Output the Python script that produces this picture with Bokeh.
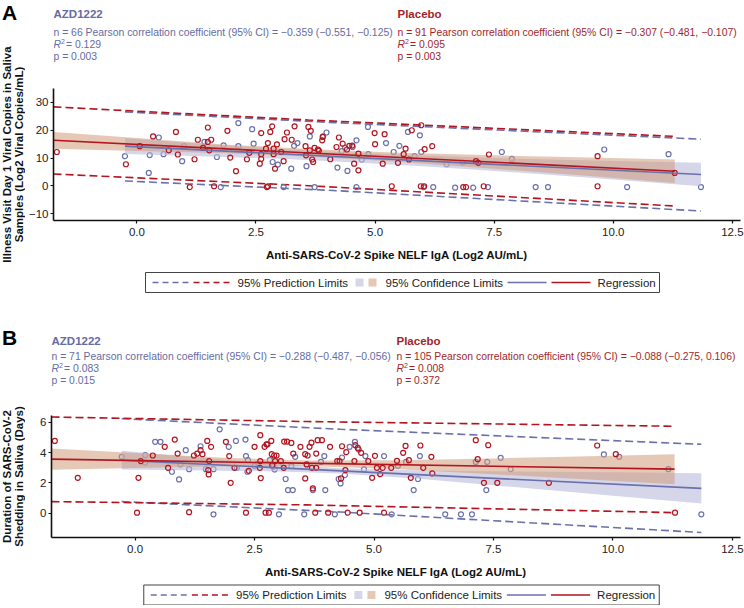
import math
from bokeh.plotting import figure
from bokeh.models import Range1d, FixedTicker, NumeralTickFormatter, CustomJSTickFormatter
from bokeh.core.properties import value
from bokeh.layouts import column, row
from bokeh.embed import file_html
from bokeh.resources import INLINE

FONT = "Liberation Sans"
BLUE = "#6a70ab"
RED = "#b3141f"
BLUE_TXT = "#666ba2"
RED_TXT = "#a31f2a"
BAND_BLUE = "#b9bbdc"
BAND_TAN = "#cf9a7a"

X_RANGE = (-1.75, 12.67)
X_TICKS = [0, 2.5, 5, 7.5, 10, 12.5]
X_LABEL = "Anti-SARS-CoV-2 Spike NELF IgA (Log2 AU/mL)"
LEGEND_LABELS = ["95% Prediction Limits", "95% Confidence Limits", "Regression"]
GROUPS = ["AZD1222", "Placebo"]

# ---------------- Panel A ----------------
A_YLABEL = ["Illness Visit Day 1 Viral Copies in Saliva", "Samples (Log2 Viral Copies/mL)"]
A_YRANGE = (-12.4, 35.0)
A_YTICKS = [-10, 0, 10, 20, 30]
A_STATS_AZD = ["n = 66 Pearson correlation coefficient (95% CI) = \u22120.359 (\u22120.551, \u22120.125)", "= 0.129", "p = 0.003"]
A_STATS_PBO = ["n = 91 Pearson correlation coefficient (95% CI) = \u22120.307 (\u22120.481, \u22120.107)", "= 0.095", "p = 0.003"]

A_AZD = [(-0.25, 10.7), (0.25, 4.7), (0.27, 11.1), (0.46, 17.4), (0.56, 11.4), (0.95, 8.9),
         (0.99, 14.3), (1.42, 15.8), (1.68, 10.4), (1.76, -0.4), (1.82, 14.6), (2.13, 14.3),
         (2.13, 22.6), (2.42, 20.4), (2.45, 15.2), (2.85, 8.6), (2.96, 7.7), (3.08, -0.4),
         (3.24, 6.2), (3.30, 14.4), (3.37, 15.4), (3.56, 7.1), (3.63, 17.8), (3.73, -0.4),
         (3.91, 17.8), (3.98, 19.2), (4.21, 6.6), (4.30, 12.5), (4.37, 13.7), (4.42, 5.4),
         (4.53, 14.0), (4.61, 16.4), (4.61, -0.4), (4.72, 9.5), (4.85, 21.2), (4.86, 11.4),
         (5.23, 15.4), (5.39, 12.2), (5.51, 14.4), (5.69, 19.4), (5.83, 10.7), (5.94, 18.2),
         (5.97, 12.2), (6.02, -0.4), (6.22, -0.4), (6.50, 7.8), (6.68, -0.6), (6.84, 8.4),
         (7.06, -0.6), (7.37, -0.4), (7.66, 12.2), (7.87, 9.7), (8.37, -0.4), (8.63, -0.4),
         (9.81, 13.1), (10.29, -0.4), (11.16, 11.4), (11.84, -0.4)]
A_PBO = [(-1.68, 12.2), (-0.23, 7.8), (0.06, 14.3), (0.34, 17.8), (0.67, 12.8), (0.82, 19.4),
         (0.86, 11.3), (1.11, -0.4), (1.21, 9.6), (1.28, 16.6), (1.39, 13.7), (1.49, 21.0),
         (1.49, 15.8), (1.52, 12.8), (1.56, 16.6), (1.62, -0.1), (1.90, 19.8), (1.96, 10.2),
         (2.08, 5.3), (2.31, 9.6), (2.36, 11.9), (2.58, 8.0), (2.61, 19.0), (2.61, 9.7),
         (2.61, 11.4), (2.73, -0.4), (2.75, 15.4), (2.75, -0.1), (2.71, 13.4), (2.80, 19.4),
         (2.84, 21.4), (2.87, 13.4), (2.87, 11.4), (2.90, 6.2), (2.94, 14.9), (3.03, 12.2),
         (3.08, 8.9), (3.10, 16.8), (3.15, 19.2), (3.25, 16.6), (3.31, 21.4), (3.54, 14.3),
         (3.55, 11.0), (3.60, 21.2), (3.63, 12.8), (3.65, 19.8), (3.68, 9.5), (3.70, 8.6),
         (3.73, 13.7), (3.80, 13.1), (3.82, 12.7), (3.89, 16.4), (3.90, 17.6), (4.06, 9.6),
         (4.19, 14.0), (4.24, 17.4), (4.32, 15.2), (4.41, 13.1), (4.46, 14.4), (4.52, 14.5),
         (4.56, 8.0), (4.65, 5.6), (4.65, 11.6), (4.99, 19.0), (5.20, 18.6), (5.00, 15.0),
         (5.16, 8.0), (5.35, -0.1), (5.48, 8.3), (5.60, 11.4), (5.64, 13.4), (5.71, 9.5),
         (5.77, 20.0), (5.96, -0.1), (5.97, 21.8), (6.03, -0.1), (6.04, 13.2), (6.20, 14.3),
         (6.85, -0.4), (6.91, -0.4), (7.12, 8.9), (7.17, 8.3), (7.28, -0.1), (7.39, 11.3),
         (9.67, 10.7), (9.67, -0.1), (11.29, 4.7)]

A_AZD_FIT_X = [-0.25, 11.84]
A_AZD_FIT_Y = [14.3, 4.1]
A_PBO_FIT_X = [-1.75, 11.29]
A_PBO_FIT_Y = [16.4, 5.3]
A_AZD_CI_X = [-0.25, 1.5, 3.0, 4.2, 6.0, 8.0, 10.0, 11.84]
A_AZD_CI_UP = [17.1, 15.0, 13.4, 12.2, 10.9, 9.8, 9.0, 8.3]
A_AZD_CI_LO = [11.5, 10.6, 9.8, 8.8, 7.1, 4.8, 2.3, -0.1]
A_PBO_CI_X = [-1.75, 0.0, 1.75, 3.6, 5.5, 7.5, 9.5, 11.29]
A_PBO_CI_UP = [19.4, 17.2, 15.0, 13.25, 11.9, 11.0, 10.2, 9.5]
A_PBO_CI_LO = [13.4, 12.6, 11.8, 10.55, 8.7, 6.2, 3.6, 1.1]
A_AZD_PI_X = [-0.25, 4.2, 11.84]
A_AZD_PI_UP = [26.6, 22.7, 16.8]
A_AZD_PI_LO = [1.8, -1.7, -9.0]
A_PBO_PI_X = [-1.75, 3.6, 11.29]
A_PBO_PI_UP = [28.4, 23.7, 17.8]
A_PBO_PI_LO = [4.3, 0.1, -7.2]

# ---------------- Panel B ----------------
B_YLABEL = ["Duration of SARS-CoV-2", "Shedding in Saliva (Days)"]
B_YRANGE = (-1.6, 6.45)
B_YTICKS = [0, 2, 4, 6]
B_STATS_AZD = ["n = 71 Pearson correlation coefficient (95% CI) = \u22120.288 (\u22120.487, \u22120.056)", "= 0.083", "p = 0.015"]
B_STATS_PBO = ["n = 105 Pearson correlation coefficient (95% CI) = \u22120.088 (\u22120.275, 0.106)", "= 0.008", "p = 0.372"]

B_AZD = [(-0.28, 3.72), (0.21, 3.83), (0.21, 3.35), (0.42, 4.71), (0.53, 4.71), (0.77, 2.74),
         (0.92, 2.23), (0.95, 3.22), (1.06, 4.16), (1.13, 2.91), (1.37, 4.42), (1.48, 2.91),
         (1.64, 2.91), (1.64, -0.07), (1.77, 5.54), (1.96, 4.38), (2.11, 4.77), (2.13, 3.0),
         (2.31, 4.86), (2.32, 3.77), (2.36, 3.5), (2.35, 2.74), (2.50, 3.11), (2.82, 3.5),
         (2.89, 3.07), (2.92, 2.89), (3.01, -0.07), (3.15, 2.26), (3.20, 1.53), (3.27, 3.11),
         (3.30, 1.53), (3.35, 3.72), (3.54, -0.07), (3.72, 1.53), (3.89, 3.39), (3.96, 3.77),
         (3.98, 1.53), (4.18, -0.07), (4.26, 2.26), (4.30, 1.97), (4.33, 3.68), (4.39, 2.52),
         (4.49, 4.38), (4.60, 4.71), (4.68, 4.2), (4.79, 2.89), (4.82, 3.77), (5.21, 3.77),
         (5.37, -0.07), (5.50, 3.13), (5.67, 3.39), (5.83, 1.53), (5.92, 2.26), (5.96, 3.77),
         (6.49, -0.07), (6.82, -0.07), (7.05, -0.07), (7.13, 3.39), (7.35, 1.53), (7.37, 3.39),
         (7.65, 3.66), (7.86, 2.91), (9.81, 3.88), (10.13, 3.72), (11.16, 2.91), (11.85, -0.07)]
B_PBO = [(-1.68, 4.77), (-1.20, 2.34), (0.07, 2.34), (0.04, 0.04), (0.12, 3.44), (0.37, 3.81),
         (0.62, 4.38), (0.69, 3.0), (0.83, 4.86), (0.89, 3.94), (1.13, 0.07), (1.23, 3.81),
         (1.30, 3.94), (1.37, 4.16), (1.41, 3.9), (1.51, 4.77), (1.53, 2.85), (1.54, 2.56),
         (1.55, 3.44), (1.59, 4.38), (1.90, 4.71), (1.97, 3.77), (2.00, 2.01), (2.08, 3.0),
         (2.32, 0.04), (2.38, 2.8), (2.50, 4.38), (2.61, 3.0), (2.62, 5.15), (2.63, 2.32),
         (2.62, 3.44), (2.71, 4.38), (2.75, 4.55), (2.77, 4.55), (2.73, 0.04), (2.80, 0.04),
         (2.85, 4.77), (2.86, 3.9), (2.87, 3.17), (2.91, 3.81), (2.93, 3.44), (2.96, 3.81),
         (3.05, 3.44), (3.12, 4.73), (3.11, 3.0), (3.18, 4.73), (3.27, 4.64), (3.31, 3.94),
         (3.46, 4.38), (3.56, 2.3), (3.56, 3.9), (3.59, 3.22), (3.61, 3.81), (3.65, 4.38),
         (3.69, 4.66), (3.72, 1.64), (3.70, 3.0), (3.77, 0.04), (3.79, 3.0), (3.79, 3.94),
         (3.82, 4.82), (3.91, 4.82), (4.04, 0.04), (4.08, 4.38), (4.23, 3.44), (4.28, 3.44),
         (4.31, 2.3), (4.33, 4.42), (4.40, 2.85), (4.42, 4.03), (4.45, 0.04), (4.59, 3.44),
         (4.61, 4.49), (4.66, 4.31), (4.70, 0.04), (4.73, 3.99), (4.88, 3.44), (4.96, 2.34),
         (5.02, 3.79), (5.06, 3.0), (5.13, 2.58), (5.18, 3.0), (5.21, 0.04), (5.36, 3.0),
         (5.48, 3.46), (5.61, 3.99), (5.66, 4.44), (5.73, 3.5), (5.77, 2.34), (5.97, 4.47),
         (6.03, 3.0), (6.20, 3.72), (6.22, 2.63), (7.13, 4.82), (7.17, 3.57), (7.30, 2.01),
         (7.39, 4.49), (7.58, 2.01), (8.66, 2.01), (9.67, 4.47), (10.06, 3.9), (11.30, 0.04)]

B_AZD_FIT_X = [-0.28, 11.85]
B_AZD_FIT_Y = [3.5, 1.64]
B_PBO_FIT_X = [-1.75, 11.29]
B_PBO_FIT_Y = [3.57, 2.91]
B_AZD_CI_X = [-0.28, 1.5, 3.0, 4.3, 6.0, 8.0, 10.0, 11.85]
B_AZD_CI_UP = [4.12, 3.63, 3.25, 2.97, 2.82, 2.75, 2.70, 2.64]
B_AZD_CI_LO = [2.88, 2.82, 2.76, 2.63, 2.26, 1.71, 1.16, 0.64]
B_PBO_CI_X = [-1.75, 0.0, 1.75, 3.6, 5.5, 7.5, 9.5, 11.29]
B_PBO_CI_UP = [4.27, 3.97, 3.68, 3.48, 3.50, 3.62, 3.76, 3.90]
B_PBO_CI_LO = [2.87, 2.99, 3.10, 3.12, 2.90, 2.57, 2.22, 1.92]
B_AZD_PI_X = [-0.28, 4.3, 11.85]
B_AZD_PI_UP = [6.24, 5.54, 4.55]
B_AZD_PI_LO = [0.77, 0.08, -1.27]
B_PBO_PI_X = [-1.75, 3.6, 11.29]
B_PBO_PI_UP = [6.35, 6.05, 5.74]
B_PBO_PI_LO = [0.77, 0.55, 0.04]

LEFT_W = 25            # strip holding the panel letter and the y-axis title
STACK_W = 744 - LEFT_W  # header / plot / legend column
FRAME_W = 687          # nominal plot-frame width (header & legend share it)
DASH = "8 4"


def blank(width, height, xr):
    """Figure whose frame is a plain pixel canvas, y measured downwards."""
    p = figure(width=width, height=height, x_range=Range1d(0, xr), y_range=Range1d(height, 0),
               output_backend="svg", toolbar_location=None, title=None,
               x_axis_location=None, y_axis_location=None, min_border=0)
    p.grid.visible = False
    p.outline_line_color = None
    return p


def txt(p, x, y, s, size, color, style="normal", align="left", baseline="alphabetic",
        angle=0.0):
    if baseline == "alphabetic":
        y -= 0.36 * size   # compensate the renderer's downward shift of this baseline
    p.text(x=[x], y=[y], text=[s], text_font=value(FONT), text_font_size=value(f"{size}px"),
           text_font_style=style, text_color=color, text_align=align,
           text_baseline=baseline, angle=angle)


def left_strip(letter, ylabel, height, let_y, label_y):
    p = blank(LEFT_W, height, LEFT_W)
    txt(p, 1.5, let_y, letter, 21, "#000000", "bold")
    txt(p, 6, label_y, ylabel[0], 11.5, "#111111", "bold", "center", "middle", math.pi / 2)
    txt(p, 18.5, label_y, ylabel[1], 11.5, "#111111", "bold", "center", "middle", math.pi / 2)
    return p


def header(stats_azd, stats_pbo, height, ttl_y, s_y):
    p = blank(STACK_W, height, FRAME_W)
    txt(p, 0, ttl_y, GROUPS[0], 11.5, BLUE_TXT, "bold")
    txt(p, 344, ttl_y, GROUPS[1], 11.5, RED_TXT, "bold")
    for fx, stats, col in ((0, stats_azd, BLUE_TXT), (344, stats_pbo, RED_TXT)):
        txt(p, fx, s_y[0], stats[0], 10.4, col)
        txt(p, fx, s_y[1], "R", 10.4, col, "italic")
        txt(p, fx + 7.5, s_y[1] - 4, "2", 7, col)
        txt(p, fx + 12.5, s_y[1], stats[1], 10.4, col)
        txt(p, fx, s_y[2], stats[2], 10.4, col)
    return p


def legend_fig(height, top):
    p = blank(STACK_W, height, FRAME_W)
    yc = top + 10
    p.quad(left=[92], right=[606], top=[top], bottom=[top + 20], fill_color="white",
           line_color="#444444", line_width=1)
    p.line([99, 135], [yc, yc], line_color=BLUE, line_width=1.6, line_dash="6 4")
    p.line([140, 176], [yc, yc], line_color=RED, line_width=1.6, line_dash="6 4")
    txt(p, 184, yc + 4.2, LEGEND_LABELS[0], 11.5, "#222222")
    p.scatter([306], [yc], marker="square", size=8, fill_color=BAND_BLUE, fill_alpha=0.6,
              line_color=None)
    p.scatter([319], [yc], marker="square", size=8, fill_color=BAND_TAN, fill_alpha=0.55,
              line_color=None)
    txt(p, 332, yc + 4.2, LEGEND_LABELS[1], 11.5, "#222222")
    p.line([454, 493], [yc, yc], line_color=BLUE, line_width=1.6)
    p.line([498, 537], [yc, yc], line_color=RED, line_width=1.6)
    txt(p, 544, yc + 4.2, LEGEND_LABELS[2], 11.5, "#222222")
    return p


def main_fig(yrange, yticks, azd, pbo, azd_fit, pbo_fit, azd_ci, pbo_ci,
             azd_pi, pbo_pi, frame_h):
    p = figure(width=STACK_W, frame_height=frame_h, x_range=Range1d(*X_RANGE),
               y_range=Range1d(*yrange), output_backend="svg", title=None,
               toolbar_location=None, min_border_left=26, min_border_right=4,
               min_border_top=4, min_border_bottom=46)
    p.grid.visible = False
    p.outline_line_color = None

    for ax in (p.xaxis[0], p.yaxis[0]):
        ax.axis_line_color = "#111111"
        ax.axis_line_width = 1.6
        ax.major_tick_line_color = "#111111"
        ax.major_tick_line_width = 1.2
        ax.major_tick_in = 0
        ax.minor_tick_line_color = None
        ax.major_label_text_font = FONT
        ax.major_label_text_font_size = "11.5px"
        ax.major_label_text_color = "#222222"
    p.xaxis.ticker = FixedTicker(ticks=X_TICKS)
    p.xaxis.formatter = NumeralTickFormatter(format="0.0")
    p.xaxis.major_tick_out = 3
    p.xaxis.major_label_standoff = 4
    p.xaxis.axis_label = X_LABEL
    p.xaxis.axis_label_text_font = FONT
    p.xaxis.axis_label_text_font_size = "11.5px"
    p.xaxis.axis_label_text_font_style = "bold"
    p.xaxis.axis_label_text_color = "#111111"
    p.xaxis.axis_label_standoff = 10
    p.yaxis.ticker = FixedTicker(ticks=yticks)
    p.yaxis.formatter = CustomJSTickFormatter(
        code="return tick < 0 ? '\\u2212' + Math.abs(tick) : tick.toString();")
    p.yaxis.major_tick_out = 3
    p.yaxis.major_label_standoff = 2

    p.line(azd_pi[0], azd_pi[1], line_color=BLUE, line_width=1.6, line_dash=DASH)
    p.line(azd_pi[0], azd_pi[2], line_color=BLUE, line_width=1.6, line_dash=DASH)
    p.line(pbo_pi[0], pbo_pi[1], line_color=RED, line_width=1.6, line_dash=DASH)
    p.line(pbo_pi[0], pbo_pi[2], line_color=RED, line_width=1.6, line_dash=DASH)

    p.scatter([v[0] for v in azd], [v[1] for v in azd], marker="circle", size=5,
              fill_alpha=0, line_color=BLUE, line_width=1.2)
    p.varea(x=azd_ci[0], y1=azd_ci[2], y2=azd_ci[1], fill_color=BAND_BLUE, fill_alpha=0.6)
    p.varea(x=pbo_ci[0], y1=pbo_ci[2], y2=pbo_ci[1], fill_color=BAND_TAN, fill_alpha=0.55)
    p.scatter([v[0] for v in pbo], [v[1] for v in pbo], marker="circle", size=5,
              fill_alpha=0, line_color=RED, line_width=1.2)

    p.line(azd_fit[0], azd_fit[1], line_color=BLUE, line_width=1.6)
    p.line(pbo_fit[0], pbo_fit[1], line_color=RED, line_width=1.6)
    return p


# ---- panel A: header 84 + plot (4+132+46) + legend 34 = 300 px
hA = header(A_STATS_AZD, A_STATS_PBO, 84, 17.5, (35.5, 47.5, 59.5))
mA = main_fig(A_YRANGE, A_YTICKS, A_AZD, A_PBO,
              (A_AZD_FIT_X, A_AZD_FIT_Y), (A_PBO_FIT_X, A_PBO_FIT_Y),
              (A_AZD_CI_X, A_AZD_CI_UP, A_AZD_CI_LO), (A_PBO_CI_X, A_PBO_CI_UP, A_PBO_CI_LO),
              (A_AZD_PI_X, A_AZD_PI_UP, A_AZD_PI_LO), (A_PBO_PI_X, A_PBO_PI_UP, A_PBO_PI_LO),
              frame_h=132)
lA = legend_fig(34, 6)
sA = left_strip("A", A_YLABEL, 300, 20, 154)

# ---- panel B: header 111 + plot (4+122+46) + legend 22 = 305 px
hB = header(B_STATS_AZD, B_STATS_PBO, 111, 45, (60, 72, 84))
mB = main_fig(B_YRANGE, B_YTICKS, B_AZD, B_PBO,
              (B_AZD_FIT_X, B_AZD_FIT_Y), (B_PBO_FIT_X, B_PBO_FIT_Y),
              (B_AZD_CI_X, B_AZD_CI_UP, B_AZD_CI_LO), (B_PBO_CI_X, B_PBO_CI_UP, B_PBO_CI_LO),
              (B_AZD_PI_X, B_AZD_PI_UP, B_AZD_PI_LO), (B_PBO_PI_X, B_PBO_PI_UP, B_PBO_PI_LO),
              frame_h=122)
lB = legend_fig(22, 1.5)
sB = left_strip("B", B_YLABEL, 305, 45, 176)

layout = column(row(sA, column(hA, mA, lA)), row(sB, column(hB, mB, lB)))
open("out.html", "w").write(file_html(layout, INLINE))
